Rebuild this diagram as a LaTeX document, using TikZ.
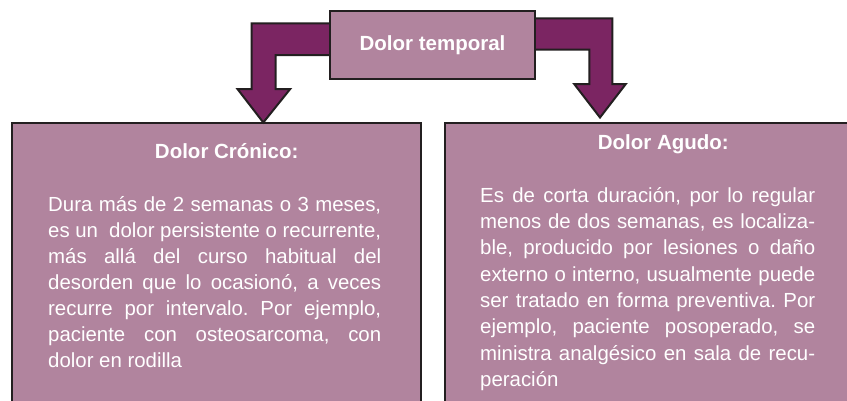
\documentclass[tikz,border=0pt]{standalone}
\usepackage{fontspec}
\setmainfont{Liberation Sans}
\definecolor{mauve}{HTML}{B1849E}
\definecolor{plum}{HTML}{7B2562}
\definecolor{edgec}{HTML}{231F20}
\begin{document}
\frenchspacing
\begin{tikzpicture}[x=1pt,y=-1pt,
  box/.style={draw=edgec, line width=2pt, fill=mauve, inner sep=0pt, outer sep=0pt},
  blockarrow/.style={draw=edgec, line width=2pt, fill=plum, line join=miter},
  title/.style={text=white, font=\bfseries\fontsize{20.5}{26}\selectfont, anchor=base, inner sep=0pt},
  body/.style={text=white, align=justify, anchor=north west, inner sep=0pt}]
\useasboundingbox (0,0) rectangle (847,400);
\clip (0,0) rectangle (847,400);
% lower boxes
\node[box, anchor=north west, minimum width=409pt, minimum height=300pt] (l) at (12,122.5) {};
\node[box, anchor=north west, minimum width=420pt, minimum height=300pt] (r) at (445,122.5) {};
% block arrows
\draw[blockarrow] (340,23.3) -- (251.7,23.3) -- (251.7,89) -- (237.5,89) -- (263.3,122.5)
  -- (290.2,89) -- (275.7,89) -- (275.7,55) -- (340,55) -- cycle;
\draw[blockarrow] (525,18.3) -- (612.3,18.3) -- (612.3,84) -- (625.8,84) -- (600,117.5)
  -- (574.2,84) -- (589.3,84) -- (589.3,49.7) -- (525,49.7) -- cycle;
% top box
\node[box, minimum width=205pt, minimum height=68pt] (t) at (432.5,44.5) {};
\node[title] (tt) at (432.5,50.5) {Dolor temporal};
% titles
\node[title] (lt) at (226.7,158) {Dolor Crónico:};
\node[title] (rt) at (663.3,149) {Dolor Agudo:};
% bodies
\node[body, text width=333pt, font=\fontsize{20.4}{26}\selectfont] (lb) at (48,191) {\frenchspacing\pretolerance=10000\tolerance=10000\rule{0pt}{20pt}Dura más de 2 semanas o 3 meses,\linebreak
es un\ \ dolor persistente o recurrente,\linebreak
más allá del curso habitual del\linebreak
desorden que lo ocasionó, a veces\linebreak
recurre por intervalo. Por ejemplo,\linebreak
paciente con osteosarcoma, con\linebreak
dolor en rodilla};
\node[body, text width=335pt, font=\fontsize{20.4}{26.3}\selectfont] (rb) at (480,182) {\frenchspacing\pretolerance=10000\tolerance=10000\rule{0pt}{20pt}Es de corta duración, por lo regular\linebreak
menos de dos semanas, es localiza-\linebreak
ble, producido por lesiones o daño\linebreak
externo o interno, usualmente puede\linebreak
ser tratado en forma preventiva. Por\linebreak
ejemplo, paciente posoperado, se\linebreak
ministra analgésico en sala de recu-\linebreak
peración};
\end{tikzpicture}
\end{document}
